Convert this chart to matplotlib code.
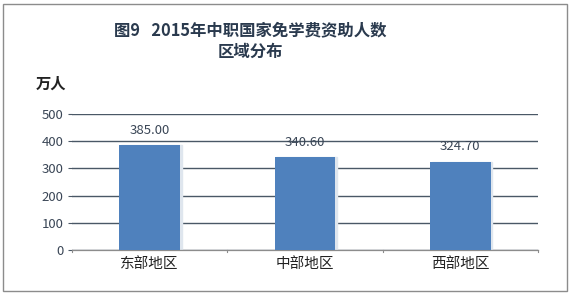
import matplotlib
matplotlib.use("agg")
import matplotlib.pyplot as plt
from matplotlib.patches import Rectangle

plt.rcParams["font.family"] = ["Noto Sans CJK SC", "DejaVu Sans"]

regions = ["东部地区", "中部地区", "西部地区"]
students = [385.00, 340.60, 324.70]
y_ticks = [0, 100, 200, 300, 400, 500]

BAR_COLOR = "#4f81bd"
TEXT_COLOR = "#3a4656"
GRID_COLOR = "#4a5866"

fig = plt.figure(figsize=(5.71, 2.95), dpi=100)
ax = fig.add_axes([72 / 571, 45 / 295, 466 / 571, 136 / 295])

x_values = range(len(regions))
bars = ax.bar(x_values, students, width=0.39, color=BAR_COLOR, zorder=3)
for bar in bars:
    # faint shadow on the right like the source chart
    shadow = Rectangle((bar.get_x() + 0.01, 0), bar.get_width(), bar.get_height(),
                       color="#dfe6ee", zorder=2)
    ax.add_patch(shadow)

for x, value in zip(x_values, students):
    ax.annotate(f"{value:.2f}", (x, value), xytext=(0, 6), textcoords="offset points",
                ha="center", va="bottom", fontsize=9.5, color=TEXT_COLOR)

ax.set_xlim(-0.5, len(regions) - 0.5)
ax.set_ylim(0, 500)
ax.set_yticks(y_ticks)
ax.set_yticklabels([str(t) for t in y_ticks], fontsize=9.5, color=TEXT_COLOR)
ax.set_xticks(list(x_values))
ax.set_xticklabels(regions, fontsize=10.5, color="#222222")
ax.tick_params(axis="x", length=0, pad=5)
ax.tick_params(axis="y", length=3, color=GRID_COLOR, pad=3)

# tick marks between categories on the bottom axis
for edge in [-0.5, 0.5, 1.5, 2.5]:
    ax.plot([edge, edge], [0, -8], color="#8c8c8c", lw=0.8, clip_on=False, zorder=1)

ax.grid(True, axis="y", color=GRID_COLOR, lw=1.0, zorder=0)
for side in ["top", "right", "left"]:
    ax.spines[side].set_visible(False)
ax.spines["bottom"].set_color("#8c8c8c")
ax.spines["bottom"].set_linewidth(0.9)

fig.text(250 / 571, 1 - 30 / 295, "图9   2015年中职国家免学费资助人数", ha="center", va="center",
         fontsize=11.8, fontweight="bold", color="#2a3a4e")
fig.text(250 / 571, 1 - 52 / 295, "区域分布", ha="center", va="center",
         fontsize=11.8, fontweight="bold", color="#2a3a4e")
fig.text(36 / 571, 1 - 84 / 295, "万人", ha="left", va="center",
         fontsize=11, fontweight="bold", color="#222222")

frame = Rectangle((3 / 571, 4 / 295), 564 / 571, 287 / 295, transform=fig.transFigure,
                  fill=False, edgecolor="#8c8c8c", lw=1.0)
fig.patches.append(frame)

fig.savefig("out.png", dpi=100)
